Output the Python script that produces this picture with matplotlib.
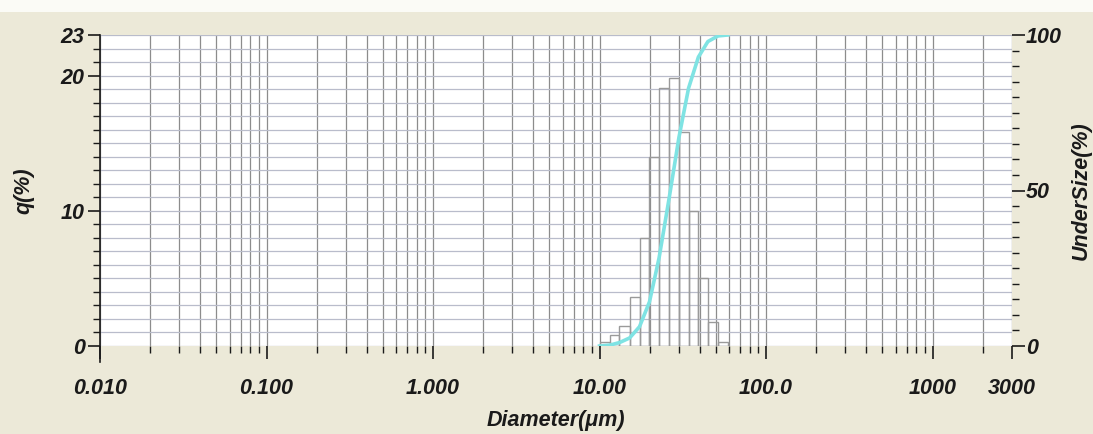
import numpy as np
import matplotlib
matplotlib.use("Agg")
import matplotlib.pyplot as plt
from matplotlib.ticker import MultipleLocator, NullFormatter, LogLocator
from matplotlib.patches import Rectangle

# channel edges (um) and frequency per channel (%)
edges = [10.00, 11.56, 13.18, 15.17, 17.38, 19.95, 22.76, 26.14,
         29.99, 34.25, 39.23, 44.75, 51.47, 58.95]
q = [0.3, 0.8, 1.5, 3.6, 8.0, 14.0, 19.1, 19.8, 15.8, 10.0, 5.0, 1.8, 0.3]

xticks = [0.01, 0.1, 1, 10, 100, 1000, 3000]
xlabels = ["0.010", "0.100", "1.000", "10.00", "100.0", "1000", "3000"]

undersize = np.concatenate([[0], np.cumsum(q)])

bg = "#ECE9D8"
txt = "#1a1a1a"
font = dict(family="Liberation Sans", style="italic", weight="bold", fontsize=15.5, color=txt)

fig = plt.figure(figsize=(10.93, 4.34), dpi=100, facecolor=bg)
fig.patches.append(Rectangle((0, 0.972), 1, 0.03, transform=fig.transFigure,
                             facecolor="#FBFBF6", edgecolor="none", zorder=0))

ax = fig.add_axes([100 / 1093, 88 / 434, 912 / 1093, 311 / 434])
ax.set_facecolor("white")
ax.set_xscale("log")
ax.set_xlim(0.01, 3000)
ax.set_ylim(0, 23)

# grid: vertical at log positions, horizontal every 1 %
ax.xaxis.set_minor_locator(LogLocator(base=10, subs=np.arange(2, 10)))
ax.xaxis.set_minor_formatter(NullFormatter())
ax.yaxis.set_minor_locator(MultipleLocator(1))
ax.grid(True, axis="x", which="both", color="#8c8c8c", lw=0.9)
ax.grid(True, axis="y", which="both", color="#b9bccb", lw=0.9)
ax.set_axisbelow(True)

# frequency bars as outlines
widths = np.diff(edges)
ax.bar(edges[:-1], q, width=widths, align="edge", fill=False,
       edgecolor="#9a9a9a", lw=1.0, zorder=3)

ax.set_xticks(xticks)
ax.set_xticklabels(xlabels, **font)
ax.set_yticks([0, 10, 20, 23])
ax.set_yticklabels(["0", "10", "20", "23"], **font)
ax.tick_params(axis="x", which="major", direction="out", length=9, width=1.2, pad=14, colors=txt)
ax.tick_params(axis="x", which="minor", direction="out", length=5, width=1.0, colors=txt)
ax.tick_params(axis="y", which="major", direction="out", length=9, width=1.2, pad=2, colors=txt)
ax.tick_params(axis="y", which="minor", direction="out", length=5, width=1.0, colors=txt)
for s in ["top", "right", "bottom"]:
    ax.spines[s].set_visible(False)
ax.spines["left"].set_color(txt)
ax.spines["left"].set_linewidth(1.2)
ax.spines["left"].set_bounds(-1.2, 23)

ax.set_xlabel("Diameter(\u03bcm)", labelpad=8, **font)
ax.set_ylabel("q(%)", **font)
ax.yaxis.set_label_coords(-0.072, 0.5)

# cumulative undersize on the right axis
ax2 = ax.twinx()
ax2.set_ylim(0, 100)
ax2.plot(edges, undersize, color="#7fe3e3", lw=2.6, zorder=4)
ax2.set_yticks([0, 50, 100])
ax2.set_yticklabels(["0", "50", "100"], **font)
ax2.yaxis.set_minor_locator(MultipleLocator(5))
ax2.tick_params(axis="y", which="major", direction="out", length=9, width=1.2, pad=1, colors=txt)
ax2.tick_params(axis="y", which="minor", direction="out", length=5, width=1.0, colors=txt)
for s in ["top", "right", "bottom", "left"]:
    ax2.spines[s].set_visible(False)
ax2.set_ylabel("UnderSize(%)", **font)
ax2.yaxis.set_label_coords(1.064, 0.5)

fig.savefig("out.png", dpi=100, facecolor=bg)
